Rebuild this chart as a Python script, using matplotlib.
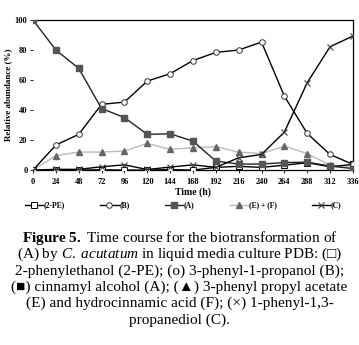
import matplotlib
matplotlib.use("Agg")
import matplotlib.pyplot as plt

plt.rcParams['font.family'] = ['Liberation Serif', 'DejaVu Serif']
plt.rcParams['mathtext.fontset'] = 'custom'
plt.rcParams['mathtext.rm'] = 'Liberation Serif'
plt.rcParams['mathtext.it'] = 'Liberation Serif:italic'
plt.rcParams['mathtext.bf'] = 'Liberation Serif:bold'

hours = [0, 24, 48, 72, 96, 120, 144, 168, 192, 216, 240, 264, 288, 312, 336]
pe2 = [0, 0, 0, 0.2, 0, 0, 0.3, 0, 1.8, 2.5, 1.8, 3.3, 4.9, 2.2, 3.8]
b_vals = [0, 16.7, 23.8, 43.8, 45.3, 59.3, 64.2, 73, 78.4, 80, 85.3, 49.3, 24.4, 10.4, 3.8]
a_vals = [100, 80, 67.8, 41, 35, 23.8, 24.2, 19.3, 6, 4, 4, 5, 5.3, 2.7, 1]
ef_vals = [0, 9.6, 12, 12, 12.7, 17.8, 13.8, 14.9, 15.6, 12, 11, 16, 11, 3.3, 2.2]
c_vals = [0, 0.5, 0.5, 2.2, 3.5, 0.4, 2, 3.5, 1.8, 8.2, 10.4, 25.3, 58.2, 82.2, 89.3]
xticks = list(range(0, 337, 24))
yticks = [0, 20, 40, 60, 80, 100]

caption = [
    r"$\mathbf{Figure\ 5.}$ Time course for the biotransformation of",
    r"(A) by $\it{C.\ acutatum}$ in liquid media culture PDB: (□)",
    "2-phenylethanol (2-PE); (o) 3-phenyl-1-propanol (B);",
    "(■) cinnamyl alcohol (A); (▲) 3-phenyl propyl acetate",
    "(E) and hydrocinnamic acid (F); (×) 1-phenyl-1,3-",
    "propanediol (C).",
]

fig = plt.figure(figsize=(3.59, 3.45), dpi=100)
ax = fig.add_axes([0.092, 0.507, 0.891, 0.435])

ax.plot(hours, pe2, color="black", lw=1, marker="s", ms=4, mfc="white", mec="black", mew=0.7, label="(2-PE)", zorder=3)
ax.plot(hours, b_vals, color="black", lw=1, marker="o", ms=4, mfc="white", mec="#333333", mew=0.7, label="(B)", zorder=3)
ax.plot(hours, a_vals, color="#222222", lw=1, marker="s", ms=4, mfc="#555555", mec="#555555", label="(A)", zorder=3)
ax.plot(hours, ef_vals, color="#bbbbbb", lw=1, marker="^", ms=4.5, mfc="#666666", mec="#666666", label="(E) + (F)", zorder=2)
ax.plot(hours, c_vals, color="black", lw=1, marker="x", ms=4.5, mec="#444444", mew=0.8, label="(C)", zorder=3)

ax.set_xlim(0, 336)
ax.set_ylim(0, 100)
ax.set_xticks(xticks)
ax.set_yticks(yticks)
ax.spines['left'].set_visible(False)
for s in ['top', 'right', 'bottom']:
    ax.spines[s].set_linewidth(0.9)
ax.tick_params(labelsize=6, length=2, width=0.6)
ax.tick_params(axis="x", pad=4)
ax.tick_params(axis="y", pad=2)
for lbl in ax.get_xticklabels() + ax.get_yticklabels():
    lbl.set_fontweight("bold")
ax.set_xlabel("Time (h)", fontsize=7, fontweight="bold", labelpad=1)
ax.set_ylabel("Relative abundance (%)", fontsize=6.5, fontweight="bold", labelpad=2)

fig.legend(loc="center", bbox_to_anchor=(0.51, 0.405), ncol=5, frameon=False,
           handlelength=2.4, columnspacing=4.6, handletextpad=0.1,
           prop={"weight": "bold", "size": 5.5})

y = 1 - 238 / 345
for line in caption:
    fig.text(0.5, y, line, ha="center", va="center", fontsize=11)
    y -= 16.4 / 345

fig.savefig("out.png", dpi=100)
